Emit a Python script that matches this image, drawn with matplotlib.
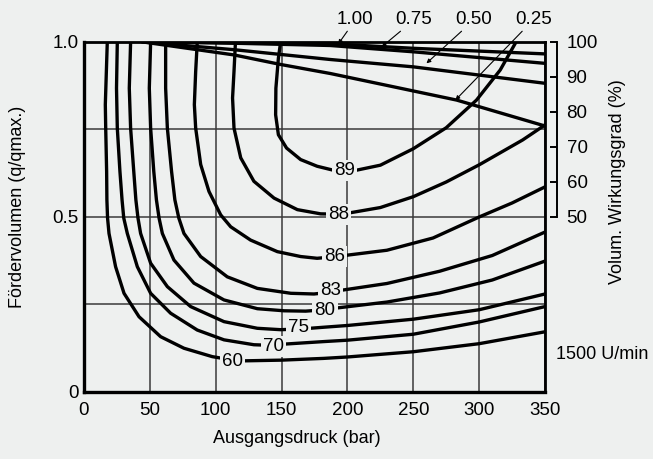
import matplotlib.pyplot as plt

plt.rcParams['font.family'] = ['Liberation Sans', 'DejaVu Sans']

bg = '#eef0ef'

pressure_ticks = [0, 50, 100, 150, 200, 250, 300, 350]
flow_ticks = [0, 0.25, 0.5, 0.75, 1.0]
flow_tick_labels = ['0', '', '0.5', '', '1.0']
vol_ticks = [50, 60, 70, 80, 90, 100]

# iso-efficiency lines, pressure (bar) / flow (q/qmax)
c60_p = [17.7, 16.2, 16.5, 17.2, 17.4, 17.9, 19.0, 24.0, 30.4, 41.8, 58.2, 75.9, 97.4, 110, 121.5, 150, 182, 200, 250, 300, 350]
c60_q = [1.0, 0.821, 0.754, 0.63, 0.549, 0.497, 0.453, 0.358, 0.282, 0.215, 0.158, 0.125, 0.101, 0.093, 0.089, 0.091, 0.096, 0.100, 0.115, 0.138, 0.172]
c70_p = [25.3, 24.7, 25.3, 27.3, 28.9, 30.2, 32.9, 40.5, 50.6, 65.8, 86, 106.3, 129, 144, 153, 182, 200, 250, 300, 350]
c70_q = [1.0, 0.868, 0.754, 0.63, 0.549, 0.497, 0.453, 0.358, 0.282, 0.225, 0.177, 0.149, 0.135, 0.133, 0.137, 0.144, 0.148, 0.165, 0.200, 0.244]
c75_p = [35.4, 34.4, 35.4, 37.8, 39.4, 41, 43, 50.6, 63.3, 81, 106.3, 131.6, 149.3, 163, 171.6, 182, 200, 250, 300, 350]
c75_q = [1.0, 0.868, 0.754, 0.63, 0.549, 0.497, 0.453, 0.368, 0.301, 0.244, 0.201, 0.182, 0.178, 0.180, 0.182, 0.185, 0.190, 0.208, 0.235, 0.280]
c80_p = [50.6, 49.6, 50.6, 53.0, 55.0, 57, 59.5, 68.3, 83.5, 106.3, 131.6, 151.9, 168.3, 183, 192, 230, 270, 310, 350]
c80_q = [1.0, 0.868, 0.754, 0.63, 0.549, 0.497, 0.453, 0.377, 0.311, 0.263, 0.238, 0.232, 0.231, 0.235, 0.240, 0.257, 0.283, 0.320, 0.374]
c83_p = [62, 62, 63.3, 66.5, 69.0, 72, 75.9, 88.6, 108.8, 131.6, 157, 174.6, 187, 196, 230, 270, 310, 350]
c83_q = [1.0, 0.868, 0.754, 0.63, 0.549, 0.497, 0.453, 0.387, 0.329, 0.296, 0.282, 0.280, 0.285, 0.291, 0.310, 0.345, 0.390, 0.457]
c86_p = [86, 84.8, 83.8, 84.8, 88.6, 94.9, 103.8, 111.4, 126.5, 146.8, 164.5, 177, 189, 200, 230, 265, 300, 325, 350]
c86_q = [1.0, 0.916, 0.821, 0.754, 0.65, 0.573, 0.506, 0.472, 0.434, 0.401, 0.387, 0.382, 0.386, 0.391, 0.405, 0.440, 0.500, 0.540, 0.586]
c88_p = [115, 113.9, 112.8, 113.9, 119, 129, 144.3, 162, 179.7, 193, 202, 225, 250, 275, 300, 333, 350]
c88_q = [1.0, 0.916, 0.84, 0.754, 0.669, 0.602, 0.554, 0.521, 0.509, 0.508, 0.512, 0.527, 0.558, 0.600, 0.649, 0.720, 0.763]
c89_p = [149.3, 147.6, 145.7, 145.5, 147.6, 153.8, 164.5, 177, 190, 206, 225, 250, 275, 298, 316, 328]
c89_q = [1.0, 0.954, 0.868, 0.792, 0.735, 0.697, 0.664, 0.645, 0.633, 0.633, 0.648, 0.695, 0.755, 0.834, 0.920, 1.0]

contours = [(c60_p, c60_q), (c70_p, c70_q), (c75_p, c75_q), (c80_p, c80_q),
            (c83_p, c83_q), (c86_p, c86_q), (c88_p, c88_q), (c89_p, c89_q)]
contour_labels = ['60', '70', '75', '80', '83', '86', '88', '89']
label_p = [113, 144, 163, 183, 187, 190, 193, 198]
label_q = [0.087, 0.129, 0.183, 0.234, 0.291, 0.387, 0.506, 0.632]

# volumetric efficiency (%) for q/qmax = 1.00, 0.75, 0.50, 0.25
vol_names = ['1.00', '0.75', '0.50', '0.25']
v100_p = [55, 120, 187, 250, 350]
v100_e = [100, 99.8, 99.5, 98.2, 96.6]
v075_p = [55, 120, 187, 250, 350]
v075_e = [100, 99.6, 99.0, 97.2, 93.9]
v050_p = [45, 114, 187, 250, 350]
v050_e = [100, 97.8, 95.0, 92.9, 88.2]
v025_p = [45, 114, 149, 187, 283, 350]
v025_e = [100, 96.3, 93.6, 91.0, 83.4, 76.0]
vol_lines = [(v100_p, v100_e), (v075_p, v075_e), (v050_p, v050_e), (v025_p, v025_e)]
vol_tip_p = [193, 226, 260, 282]
vol_tip_e = [99.4, 98.6, 93.9, 83.4]
vol_text_p = [206, 250.6, 296, 341]

fig = plt.figure(figsize=(6.53, 4.59), dpi=100, facecolor=bg)
ax = fig.add_axes([0.1286, 0.1460, 0.7060, 0.7625], facecolor=bg)

for (p, q) in contours:
    ax.plot(p, q, color='black', lw=2.4, zorder=3, solid_joinstyle='round')

for txt, p, q in zip(contour_labels, label_p, label_q):
    ax.text(p, q, txt, fontsize=13.5, ha='center', va='center', zorder=5,
            bbox=dict(facecolor=bg, edgecolor='none', pad=1.5))

ax.set_xlim(0, 350)
ax.set_ylim(0, 1)
ax.set_xticks(pressure_ticks)
ax.set_yticks(flow_ticks)
ax.set_yticklabels(flow_tick_labels)
ax.tick_params(axis='both', length=0, labelsize=13.5)
ax.tick_params(axis='x', pad=7)
ax.tick_params(axis='y', pad=4)
ax.grid(True, color='#3a3a3a', lw=1.1)
ax.set_axisbelow(True)
for s in ['left', 'bottom']:
    ax.spines[s].set_linewidth(2.4)
for s in ['top', 'right']:
    ax.spines[s].set_linewidth(2.0)

ax.set_xlabel('Ausgangsdruck (bar)', fontsize=13)
ax.xaxis.set_label_coords(0.462, -0.108)
ax.set_ylabel('Fördervolumen (q/qmax.)', fontsize=13)
ax.yaxis.set_label_coords(-0.126, 0.53)

ax2 = ax.twinx()
ax2.set_ylim(0, 100)
ax2.set_yticks(vol_ticks)
ax2.spines['right'].set_position(('outward', 8.5))
ax2.spines['right'].set_bounds(50, 100)
ax2.spines['right'].set_linewidth(1.4)
for s in ['left', 'top', 'bottom']:
    ax2.spines[s].set_visible(False)
ax2.tick_params(axis='y', direction='in', length=5, width=1.4, labelsize=13.5, pad=7)

for (p, e) in vol_lines:
    ax2.plot(p, e, color='black', lw=2.4, zorder=3, solid_joinstyle='round')

for name, tp, te, xp in zip(vol_names, vol_tip_p, vol_tip_e, vol_text_p):
    ax2.annotate(name, xy=(tp, te), xytext=(xp, 106.3), fontsize=13.5,
                 ha='center', va='center', annotation_clip=False,
                 arrowprops=dict(arrowstyle='-|>', lw=0.8, color='black',
                                 mutation_scale=6, shrinkA=0, shrinkB=0))

ax2.set_ylabel('Volum. Wirkungsgrad (%)', fontsize=13)
ax2.yaxis.set_label_coords(1.139, 0.60)

ax.text(1.024, 0.106, '1500 U/min', transform=ax.transAxes, fontsize=13,
        ha='left', va='center')

fig.savefig('out.png', dpi=100, facecolor=bg)
